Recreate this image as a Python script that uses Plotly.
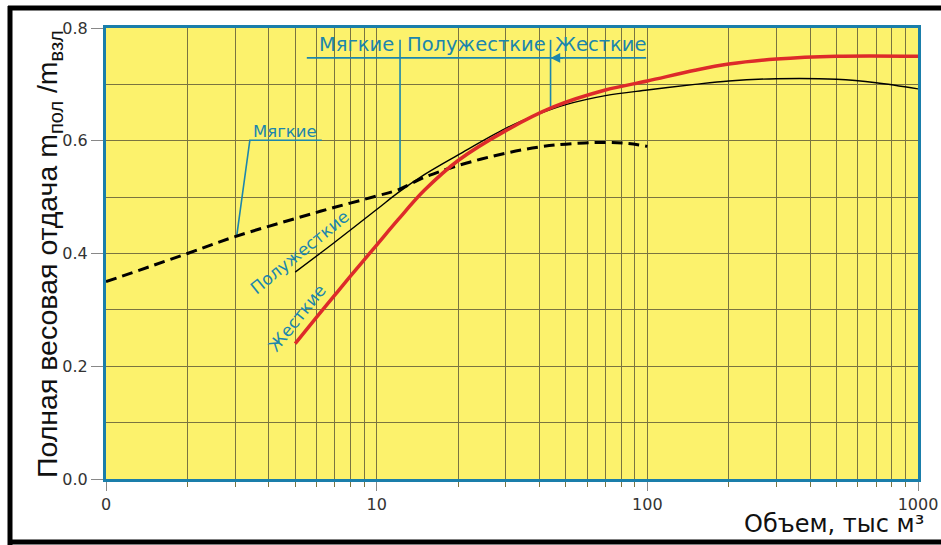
import numpy as np
import plotly.graph_objects as go

# ---- data ----
soft_x = [1, 2, 3, 5, 7, 10, 12, 15, 20, 30, 40, 50, 70, 85, 100]
soft_y = [0.35, 0.40, 0.43, 0.462, 0.482, 0.502, 0.513, 0.535, 0.556, 0.578, 0.589, 0.594, 0.597, 0.595, 0.59]

semi_x = [5, 7, 10, 12, 15, 20, 30, 40, 50, 70, 100, 150, 200, 300, 500, 700, 1000]
semi_y = [0.367, 0.42, 0.478, 0.508, 0.54, 0.575, 0.622, 0.648, 0.664, 0.68, 0.69, 0.70, 0.706, 0.71, 0.709, 0.703, 0.692]

hard_x = [5, 6, 7, 8, 10, 12, 15, 20, 30, 45, 70, 100, 150, 200, 300, 500, 1000]
hard_y = [0.24, 0.287, 0.326, 0.36, 0.415, 0.46, 0.512, 0.565, 0.618, 0.66, 0.69, 0.706, 0.725, 0.736, 0.745, 0.75, 0.75]

x_tickvals = [1, 10, 100, 1000]
x_ticktext = ["0", "10", "100", "1000"]
y_tickvals = [0.0, 0.2, 0.4, 0.6, 0.8]
y_ticktext = ["0.0", "0.2", "0.4", "0.6", "0.8"]

# annotation guide lines (data coords)
top_bar_x = [5.52, 99]
top_bar_y = [0.747, 0.747]
div1_x = [12.2, 12.2]
div1_y = [0.779, 0.513]
div2_x = [43.9, 43.9]
div2_y = [0.779, 0.66]
soft_ptr_x = [6.27, 3.40, 3.04]
soft_ptr_y = [0.601, 0.601, 0.431]

TEAL = "#1b86ad"
YELLOW = "#fcf26c"
BLUE = "#1a7eaa"
GRID = "#7a7440"

fig = go.Figure()

# guide lines
for gx, gy in [(top_bar_x, top_bar_y), (div1_x, div1_y), (div2_x, div2_y), (soft_ptr_x, soft_ptr_y)]:
    fig.add_trace(go.Scatter(x=gx, y=gy, mode="lines", line=dict(color=TEAL, width=1.6),
                             showlegend=False, hoverinfo="skip"))

fig.add_trace(go.Scatter(x=soft_x, y=soft_y, mode="lines",
                         line=dict(color="black", width=3, dash="11px,6px", shape="spline"),
                         showlegend=False))
fig.add_trace(go.Scatter(x=semi_x, y=semi_y, mode="lines", line=dict(color="black", width=1.4, shape="spline"),
                         showlegend=False))
fig.add_trace(go.Scatter(x=hard_x, y=hard_y, mode="lines", line=dict(color="#dd2a2a", width=3.5, shape="spline"),
                         showlegend=False))

L = np.log10

ann = []
txtfont = dict(family="DejaVu Sans", size=19.5, color=TEAL)
ann.append(dict(x=L(8.4), y=0.77, xref="x", yref="y", text="Мягкие", showarrow=False, font=txtfont))
ann.append(dict(x=L(23.4), y=0.77, xref="x", yref="y", text="Полужесткие", showarrow=False, font=txtfont))
ann.append(dict(x=L(67.6), y=0.77, xref="x", yref="y", text="Жесткие", showarrow=False, font=txtfont))
ann.append(dict(x=L(4.6), y=0.617, xref="x", yref="y", text="Мягкие", showarrow=False,
                font=dict(family="DejaVu Sans", size=16.5, color=TEAL)))
ann.append(dict(x=L(5.2), y=0.403, xref="x", yref="y", text="Полужесткие", showarrow=False, textangle=-39,
                font=dict(family="DejaVu Sans", size=17, color=TEAL)))
ann.append(dict(x=L(5.07), y=0.286, xref="x", yref="y", text="Жесткие", showarrow=False, textangle=-51,
                font=dict(family="DejaVu Sans", size=17, color=TEAL)))
# arrow on the top bar
ann.append(dict(x=L(div2_x[0]), y=top_bar_y[0], xref="x", yref="y", text="", showarrow=True,
                ax=14, ay=0, arrowhead=2, arrowsize=1.2, arrowwidth=1.6, arrowcolor=TEAL,
                font=dict(size=10)))
# axis titles
ann.append(dict(x=(29 - 106) / 812, y=(479 - 254) / 451, xref="paper", yref="paper",
                text="Полная весовая отдача m<sub>пол</sub> /m<sub>взл</sub>", textangle=-90, showarrow=False,
                font=dict(family="Liberation Sans", size=28.5, color="#111111")))
ann.append(dict(x=(926 - 106) / 812, y=(479 - 540) / 451, xref="paper", yref="paper", xanchor="right",
                text="Объем, тыс м³", showarrow=False,
                font=dict(family="DejaVu Sans", size=24, color="#111111")))

# outer black frame (top, left, bottom)
px = lambda p: (p - 106) / 812
py = lambda p: (479 - p) / 451
shapes = [
    dict(type="line", xref="paper", yref="paper", x0=px(8), x1=px(941), y0=py(8), y1=py(8),
         line=dict(color="black", width=5)),
    dict(type="line", xref="paper", yref="paper", x0=px(10), x1=px(10), y0=py(6), y1=py(545),
         line=dict(color="black", width=5)),
    dict(type="line", xref="paper", yref="paper", x0=px(8), x1=px(941), y0=py(542), y1=py(542),
         line=dict(color="black", width=5)),
]

minor_x = [m * d for d in (1, 10, 100) for m in range(2, 10)]

fig.update_layout(
    width=941, height=545,
    margin=dict(l=106, r=23, t=28, b=66),
    paper_bgcolor="white", plot_bgcolor=YELLOW,
    annotations=ann, shapes=shapes,
    showlegend=False,
    xaxis=dict(type="log", range=[0, 3], tickvals=x_tickvals, ticktext=x_ticktext,
               automargin=False,
               showgrid=True, gridcolor=GRID, gridwidth=1,
               ticks="outside", ticklen=9, tickcolor="#888888", tickwidth=1,
               showline=True, mirror=True, linecolor=BLUE, linewidth=3,
               tickfont=dict(family="DejaVu Sans", size=16, color="#333333"),
               minor=dict(tickvals=minor_x, showgrid=True, gridcolor=GRID, gridwidth=1,
                          ticks="outside", ticklen=5, tickcolor=GRID),
               zeroline=False),
    yaxis=dict(range=[0, 0.8], tickvals=y_tickvals, ticktext=y_ticktext,
               automargin=False,
               showgrid=True, gridcolor=GRID, gridwidth=1,
               ticks="outside", ticklen=12, tickcolor="#888888", tickwidth=1,
               showline=True, mirror=True, linecolor=BLUE, linewidth=3,
               tickfont=dict(family="DejaVu Sans", size=16, color="#333333"),
               minor=dict(dtick=0.1, showgrid=True, gridcolor=GRID, gridwidth=1),
               zeroline=False),
)

fig.write_html("out.html")
